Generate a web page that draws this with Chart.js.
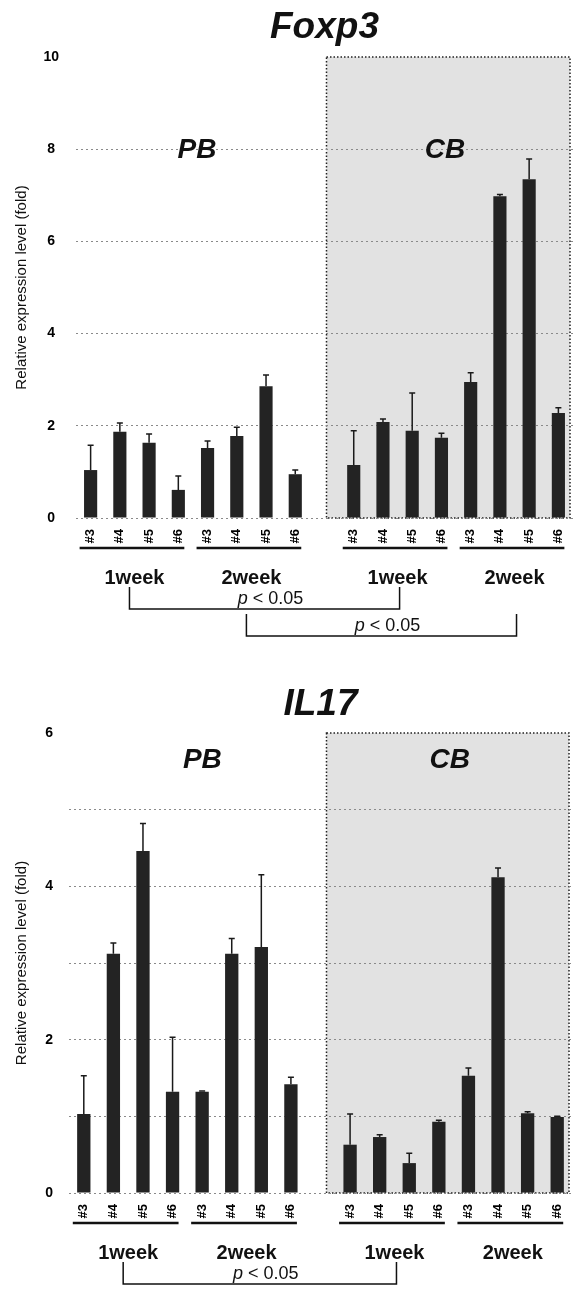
<!DOCTYPE html>
<html>
<head>
<meta charset="utf-8">
<script src="https://cdn.jsdelivr.net/npm/chart.js@4.4.0/dist/chart.umd.min.js"></script>
<style>
  body { margin: 0; background: #fff; }
  #wrap { position: relative; width: 573px; height: 1289px; }
  canvas { position: absolute; left: 0; }
</style>
</head>
<body>
<div id="wrap">
  <canvas id="foxp3" width="573" height="660" style="top:0"></canvas>
  <canvas id="il17" width="573" height="629" style="top:660px"></canvas>
</div>
<script>
// samples, PB 1week / 2week, (gap), CB 1week / 2week
var categories = ["#3", "#4", "#5", "#6", "#3", "#4", "#5", "#6", "", "#3", "#4", "#5", "#6", "#3", "#4", "#5", "#6"];
var weekLabels = ["1week", "2week", "1week", "2week"];
var weekGroups = [[0, 3], [4, 7], [9, 12], [13, 16]];
var regionLabels = ["PB", "CB"];

var foxp3Values = [1.04, 1.87, 1.63, 0.61, 1.52, 1.78, 2.86, 0.95, null, 1.15, 2.08, 1.89, 1.74, 2.95, 6.98, 7.35, 2.28];
var foxp3Errors = [1.58, 2.06, 1.82, 0.91, 1.67, 1.97, 3.1, 1.04, null, 1.89, 2.15, 2.71, 1.84, 3.15, 7.02, 7.79, 2.39];
var foxp3Ticks = [0, 2, 4, 6, 8, 10];
// pairs of week groups compared
var foxp3Brackets = [[0, 2], [1, 3]];

var il17Values = [1.03, 3.12, 4.46, 1.32, 1.32, 3.12, 3.21, 1.42, null, 0.63, 0.73, 0.39, 0.93, 1.53, 4.12, 1.04, 0.99];
var il17Errors = [1.53, 3.26, 4.82, 2.03, 1.33, 3.32, 4.15, 1.51, null, 1.03, 0.76, 0.52, 0.95, 1.63, 4.24, 1.06, 1.0];
var il17Ticks = [0, 2, 4, 6];
var il17Brackets = [[0, 2]];

var FONT = "'Liberation Sans', Arial, sans-serif";

function groupCenter(x, g) {
  return (x.getPixelForValue(g[0]) + x.getPixelForValue(g[1])) / 2;
}

function drawP(ctx, cx, baseline) {
  ctx.font = "italic 18px " + FONT;
  var wp = ctx.measureText("p").width;
  ctx.font = "18px " + FONT;
  var wr = ctx.measureText(" < 0.05").width;
  var start = cx - (wp + wr) / 2;
  ctx.textAlign = "left";
  ctx.textBaseline = "alphabetic";
  ctx.font = "italic 18px " + FONT;
  ctx.fillText("p", start, baseline);
  ctx.font = "18px " + FONT;
  ctx.fillText(" < 0.05", start + wp, baseline);
}

function extras(opt) {
  return {
    id: "extras",
    beforeDraw: function (chart) {
      var ctx = chart.ctx;
      var a = chart.chartArea;
      var left = chart.scales.x.getPixelForValue(8) + opt.boxShift;
      var right = a.right - 3;
      ctx.save();
      ctx.fillStyle = "#e2e2e2";
      ctx.fillRect(left, a.top, right - left, a.bottom - a.top);
      ctx.setLineDash([1.5, 2]);
      ctx.strokeStyle = "#222";
      ctx.lineWidth = 1.5;
      ctx.strokeRect(left, a.top, right - left, a.bottom - a.top);
      ctx.restore();
    },
    afterDatasetsDraw: function (chart) {
      var ctx = chart.ctx;
      var x = chart.scales.x;
      var y = chart.scales.y;
      ctx.save();
      ctx.strokeStyle = "#1a1a1a";
      ctx.lineWidth = 1.5;
      for (var i = 0; i < opt.values.length; i++) {
        if (opt.values[i] == null || opt.errors[i] <= opt.values[i]) continue;
        var px = x.getPixelForValue(i);
        var y0 = y.getPixelForValue(opt.values[i]);
        var y1 = y.getPixelForValue(opt.errors[i]);
        ctx.beginPath();
        ctx.moveTo(px, y0);
        ctx.lineTo(px, y1);
        ctx.moveTo(px - 3, y1);
        ctx.lineTo(px + 3, y1);
        ctx.stroke();
      }
      ctx.restore();
    },
    afterDraw: function (chart) {
      var ctx = chart.ctx;
      var a = chart.chartArea;
      var x = chart.scales.x;
      var y = chart.scales.y;
      ctx.save();
      ctx.fillStyle = "#111";
      // title
      ctx.textAlign = "center";
      ctx.textBaseline = "alphabetic";
      ctx.font = "italic bold 37px " + FONT;
      ctx.fillText(opt.title, (a.left + a.right) / 2, a.top - opt.titleGap);
      // PB / CB
      ctx.font = "italic bold 28px " + FONT;
      var ry = y.getPixelForValue(opt.regionValue);
      ctx.fillText(regionLabels[0], groupCenter(x, [0, 7]) + opt.regionShift[0], ry);
      ctx.fillText(regionLabels[1], groupCenter(x, [9, 16]) + opt.regionShift[1], ry);
      // underlines + week labels
      ctx.strokeStyle = "#111";
      ctx.lineWidth = 2.5;
      ctx.font = "bold 20px " + FONT;
      for (var g = 0; g < weekGroups.length; g++) {
        var x0 = x.getPixelForValue(weekGroups[g][0]) - 11;
        var x1 = x.getPixelForValue(weekGroups[g][1]) + 6;
        ctx.beginPath();
        ctx.moveTo(x0, a.bottom + 30);
        ctx.lineTo(x1, a.bottom + 30);
        ctx.stroke();
        ctx.fillText(weekLabels[g], groupCenter(x, weekGroups[g]), a.bottom + 66);
      }
      // significance brackets
      ctx.lineWidth = 1.5;
      for (var b = 0; b < opt.brackets.length; b++) {
        var bl = groupCenter(x, weekGroups[opt.brackets[b][0]]) - 5;
        var br = groupCenter(x, weekGroups[opt.brackets[b][1]]) + 2;
        var top = a.bottom + 69 + b * 27;
        var bot = top + 22;
        ctx.beginPath();
        ctx.moveTo(bl, top);
        ctx.lineTo(bl, bot);
        ctx.lineTo(br, bot);
        ctx.lineTo(br, top);
        ctx.stroke();
        drawP(ctx, (bl + br) / 2 + 6, bot - 5);
      }
      ctx.restore();
    }
  };
}

function makeChart(id, opt) {
  var ctx = document.getElementById(id).getContext("2d");
  var max = opt.ticks[opt.ticks.length - 1];
  return new Chart(ctx, {
    type: "bar",
    data: {
      labels: categories,
      datasets: [
        {
          data: opt.values,
          backgroundColor: "#232323",
          borderWidth: 0,
          barPercentage: 0.45,
          categoryPercentage: 1,
        },
      ],
    },
    options: {
      responsive: false,
      animation: false,
      devicePixelRatio: 1,
      layout: { padding: opt.padding },
      plugins: { legend: { display: false }, tooltip: { enabled: false } },
      scales: {
        x: {
          grid: { display: false },
          border: { display: false },
          ticks: {
            autoSkip: false,
            minRotation: 90,
            maxRotation: 90,
            padding: 3,
            color: "#000",
            font: { family: FONT, size: 13, weight: "bold" },
          },
          afterFit: function (s) {
            s.height = 40;
            s.paddingLeft = 0;
            s.paddingRight = 0;
          },
        },
        y: {
          min: 0,
          max: max,
          grid: {
            drawTicks: false,
            lineWidth: 1,
            color: function (c) {
              return c.tick && c.tick.value === max ? "rgba(0,0,0,0)" : "#8a8a8a";
            },
          },
          border: { display: false, dash: [2, 3] },
          ticks: {
            stepSize: opt.gridStep,
            padding: opt.tickPad,
            crossAlign: opt.crossAlign,
            color: "#000",
            font: { family: FONT, size: 14, weight: "bold" },
            callback: function (v) {
              return opt.ticks.indexOf(v) >= 0 ? String(v) : "";
            },
          },
          title: {
            display: true,
            text: "Relative expression level (fold)",
            color: "#111",
            font: { family: FONT, size: 15 },
            padding: { top: 13, bottom: 0 },
          },
          afterFit: function (s) {
            s.width = opt.axisWidth;
          },
        },
      },
    },
    plugins: [extras(opt)],
  });
}

makeChart("foxp3", {
  title: "Foxp3",
  values: foxp3Values,
  errors: foxp3Errors,
  ticks: foxp3Ticks,
  gridStep: 2,
  brackets: foxp3Brackets,
  padding: { top: 57, bottom: 102, left: 0, right: 0 },
  axisWidth: 76,
  tickPad: 17,
  crossAlign: "center",
  titleGap: 19,
  boxShift: 2,
  regionValue: 7.8,
  regionShift: [4, -11],
});

makeChart("il17", {
  title: "IL17",
  values: il17Values,
  errors: il17Errors,
  ticks: il17Ticks,
  gridStep: 1,
  brackets: il17Brackets,
  padding: { top: 73, bottom: 56, left: 0, right: 1 },
  axisWidth: 69,
  tickPad: 16,
  crossAlign: "near",
  titleGap: 18,
  boxShift: 6,
  regionValue: 5.55,
  regionShift: [15, -4],
});
</script>
</body>
</html>
